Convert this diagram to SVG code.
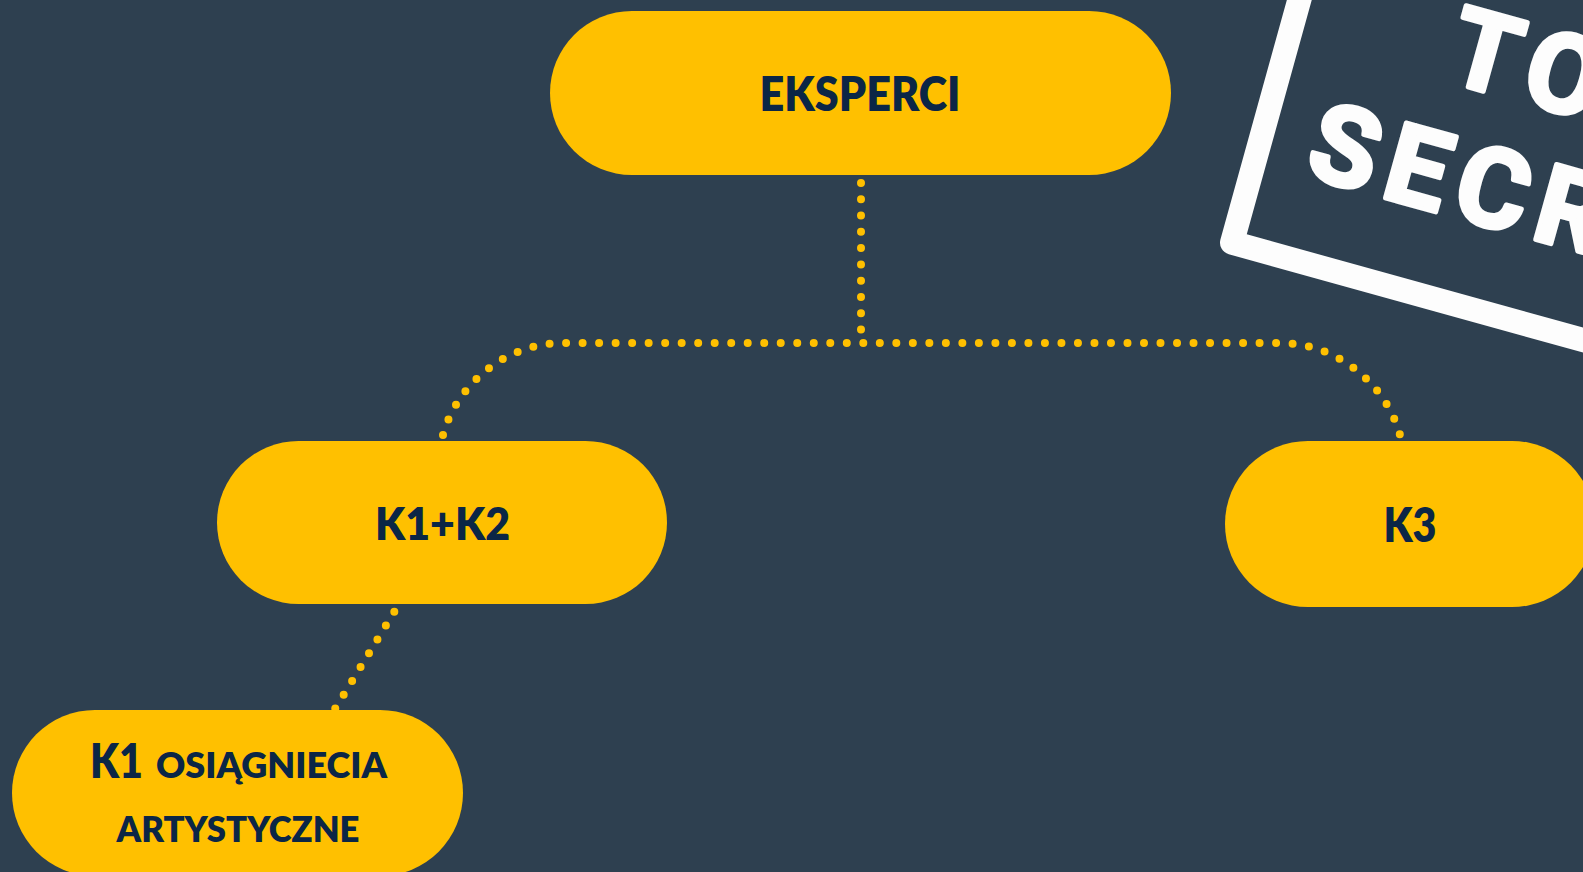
<svg xmlns="http://www.w3.org/2000/svg" width="1583" height="872" viewBox="0 0 1583 872">
  <style>
    .pill { fill: #FFC000; }
    .lbl { font-family: Lato, "Open Sans", "Liberation Sans", sans-serif; font-weight: 800; fill: #0b2646; }
    .mid { text-anchor: middle; }
    .dots { fill: none; stroke: #FFC000; stroke-width: 8; stroke-linecap: round; stroke-dasharray: 0 1; }
    .stamp-text { font-family: Roboto, "DejaVu Sans", sans-serif; font-weight: 700; fill: #FDFDFD; stroke: #FDFDFD; stroke-width: 4.5; stroke-linejoin: round; font-size: 110px; letter-spacing: 11px; }
  </style>
  <rect x="0" y="0" width="1583" height="872" fill="#2E4050"/>

  <g id="stamp" transform="translate(1232,242.7) rotate(15.5)">
    <rect x="0" y="-440" width="620" height="440" fill="none" stroke="#FDFDFD" stroke-width="24" stroke-linejoin="round"/>
    <text class="stamp-text" x="160" y="-213">TOP</text>
    <text class="stamp-text" x="50" y="-84">SECRET</text>
  </g>

  <g id="connectors">
    <path class="dots" pathLength="9.03" d="M 861 183 L 861 330"/>
    <path class="dots" pathLength="63.05" d="M 443 435 C 455 390 500 343 564 343 L 1279 343 C 1343 343 1388 390 1400 435"/>
    <path class="dots" pathLength="7.03" d="M 394.3 611.7 L 335 709"/>
  </g>

  <g id="node-eksperci">
    <rect class="pill" x="550" y="11" width="621" height="164" rx="82" ry="82"/>
    <text class="lbl mid" x="860" y="111" font-size="47" textLength="201" lengthAdjust="spacingAndGlyphs">EKSPERCI</text>
  </g>

  <g id="node-k1k2">
    <rect class="pill" x="217" y="441" width="450" height="163" rx="81.5" ry="81.5"/>
    <text class="lbl mid" x="442.5" y="540" font-size="46" textLength="135" lengthAdjust="spacingAndGlyphs">K1+K2</text>
  </g>

  <g id="node-k3">
    <rect class="pill" x="1225" y="441" width="370" height="166" rx="83" ry="83"/>
    <text class="lbl mid" x="1410" y="542" font-size="47" textLength="53" lengthAdjust="spacingAndGlyphs">K3</text>
  </g>

  <g id="node-k1">
    <rect class="pill" x="12" y="710" width="451" height="166" rx="83" ry="83"/>
    <text class="lbl" x="90" y="777.7" font-size="47" textLength="53" lengthAdjust="spacingAndGlyphs">K1</text>
    <text class="lbl" x="156" y="777.7" font-size="36" textLength="231" lengthAdjust="spacingAndGlyphs">OSIĄGNIECIA</text>
    <text class="lbl mid" x="238" y="841.7" font-size="35" textLength="243" lengthAdjust="spacingAndGlyphs">ARTYSTYCZNE</text>
  </g>
</svg>
